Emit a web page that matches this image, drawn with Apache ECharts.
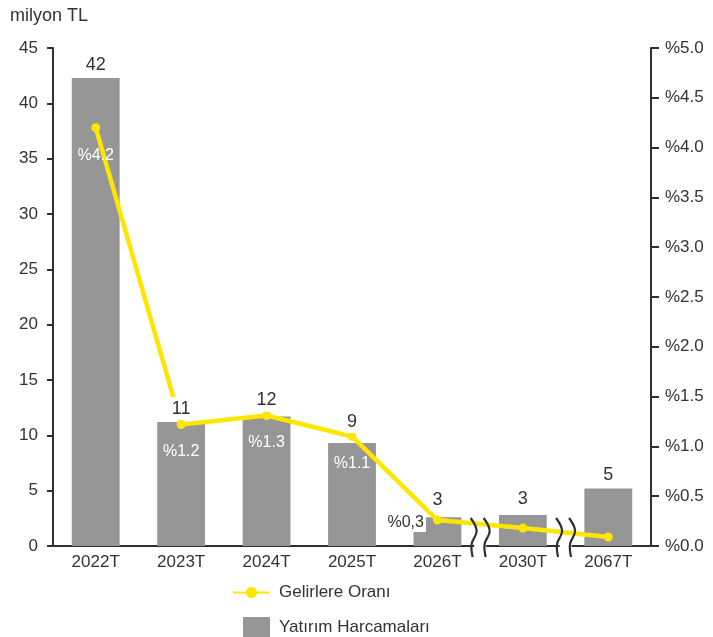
<!DOCTYPE html>
<html>
<head>
<meta charset="utf-8">
<script src="https://cdn.jsdelivr.net/npm/echarts@6/dist/echarts.min.js"></script>
<style>
  html, body { margin: 0; padding: 0; background: #fff; }
  #main { width: 713px; height: 637px; }
</style>
</head>
<body>
<div id="main"></div>
<script>
var years = ['2022T', '2023T', '2024T', '2025T', '2026T', '2030T', '2067T'];
// yatırım harcamaları (milyon TL)
var spending = [42.3, 11.2, 11.7, 9.3, 2.6, 2.8, 5.2];
// gelirlere oranı (%)
var ratio = [4.2, 1.22, 1.31, 1.1, 0.26, 0.18, 0.09];
var ratioLabels = ['%4.2', '%1.2', '%1.3', '%1.1', '%0,3', '', ''];
// kırık eksen işaretleri bu iki kategori çiftinin arasında
var breaks = [[4, 5], [5, 6]];

var font = 'Liberation Sans, Arial, sans-serif';
var dark = '#2e2e38';
var txt = '#333';
// bazı değer etiketleri çizgiden kaçmak için biraz yukarıda
var labelLift = [0, 0, 3, 8, 4, 3, 0];

var chart = echarts.init(document.getElementById('main'));

var ratioData = ratio.map(function (v, i) {
  var item = { value: v, label: { show: ratioLabels[i] !== '' } };
  if (i === 4) {
    item.label = {
      show: true, position: 'left', distance: 7, color: txt, fontSize: 16,
      backgroundColor: '#fff', padding: [2, 2, 2, 2], offset: [0, 2]
    };
  }
  return item;
});

var labelData = spending.map(function (v, i) {
  return { value: v, label: { offset: [0, -labelLift[i]] } };
});

chart.setOption({
  animation: false,
  textStyle: { fontFamily: font },
  title: {
    text: 'milyon TL', left: 5, top: 2,
    textStyle: { fontSize: 18, fontWeight: 'normal', color: txt, fontFamily: font }
  },
  grid: { left: 53, right: 62, top: 48, bottom: 91 },
  legend: [
    {
      data: ['Gelirlere Oranı'], orient: 'vertical', left: 232, top: 584,
      padding: 0, itemWidth: 37, itemHeight: 14,
      textStyle: { fontSize: 17, color: txt, padding: [0, 0, 0, 4] }
    },
    {
      data: [{ name: 'Yatırım Harcamaları', icon: 'rect' }], orient: 'vertical', left: 243, top: 617,
      padding: 0, itemWidth: 27, itemHeight: 20,
      textStyle: { fontSize: 17, color: txt, padding: [0, 0, 0, 4] }
    }
  ],
  xAxis: {
    type: 'category', data: years,
    axisLine: { lineStyle: { color: dark, width: 2 } },
    axisTick: { show: false },
    axisLabel: { fontSize: 17, color: txt, margin: 8 }
  },
  yAxis: [
    {
      type: 'value', min: 0, max: 45, interval: 5,
      splitLine: { show: false },
      axisLine: { show: true, lineStyle: { color: dark, width: 2 } },
      axisTick: { show: true, length: 6, lineStyle: { color: dark, width: 2 } },
      axisLabel: { fontSize: 17, color: txt, margin: 15 }
    },
    {
      type: 'value', min: 0, max: 5, interval: 0.5,
      splitLine: { show: false },
      axisLine: { show: true, lineStyle: { color: dark, width: 2 } },
      axisTick: { show: true, length: 8, lineStyle: { color: dark, width: 2 } },
      axisLabel: {
        fontSize: 17, color: txt, margin: 14,
        formatter: function (v) { return '%' + v.toFixed(1); }
      }
    }
  ],
  series: [
    {
      name: 'Yatırım Harcamaları', type: 'bar', data: spending,
      barWidth: '56%', z: 1,
      itemStyle: { color: '#969696' }
    },
    {
      // sadece değer etiketleri (beyaz zeminli, çizginin üstünde)
      name: 'etiket', type: 'bar', data: labelData,
      barWidth: '56%', barGap: '-100%', z: 5, silent: true,
      itemStyle: { color: 'rgba(0,0,0,0)' },
      label: {
        show: true, position: 'top', distance: 2, fontSize: 18, color: txt,
        backgroundColor: '#fff', padding: [3, 3, 2, 3],
        formatter: function (p) { return Math.round(p.value); }
      }
    },
    {
      name: 'Gelirlere Oranı', type: 'line', yAxisIndex: 1, data: ratioData,
      z: 3,
      symbol: 'circle', symbolSize: 9,
      lineStyle: { color: '#ffe600', width: 4.5 },
      itemStyle: { color: '#ffe600' },
      label: {
        position: 'bottom', distance: 15, fontSize: 16, color: '#fff',
        formatter: function (p) { return ratioLabels[p.dataIndex]; }
      }
    }
  ]
});

// kırık eksen işaretleri
var y0 = chart.convertToPixel({ yAxisIndex: 0 }, 0);
var marks = [];
breaks.forEach(function (b) {
  var xa = chart.convertToPixel({ xAxisIndex: 0 }, b[0]);
  var xb = chart.convertToPixel({ xAxisIndex: 0 }, b[1]);
  var xm = (xa + xb) / 2;
  marks.push({
    type: 'rect', z: 10,
    shape: { x: xm - 6, y: y0 - 3, width: 12, height: 6 },
    style: { fill: '#fff' }
  });
  [-6.5, 6.5].forEach(function (dx) {
    var x = xm + dx;
    marks.push({
      type: 'polyline', z: 11,
      shape: {
        points: [[x - 3, y0 - 28], [x + 3, y0 - 15], [x - 2, y0 - 2], [x - 1, y0 + 11]],
        smooth: 0.4
      },
      style: { stroke: dark, lineWidth: 2.2, fill: null }
    });
  });
});
chart.setOption({ graphic: marks });
</script>
</body>
</html>
